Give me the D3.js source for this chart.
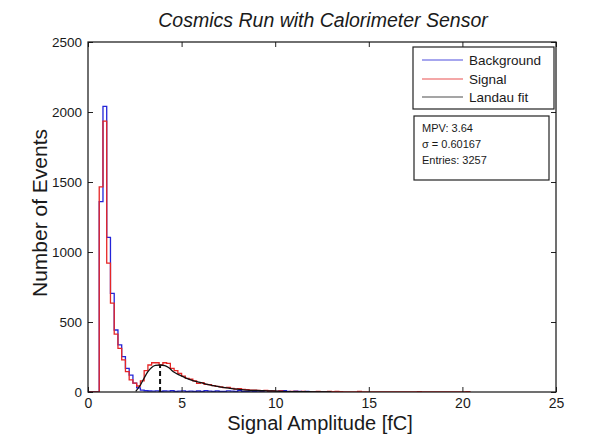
<!DOCTYPE html>
<html>
<head>
<meta charset="utf-8">
<script src="https://cdn.jsdelivr.net/npm/d3@7/dist/d3.min.js"></script>
<style>
  html, body { margin: 0; padding: 0; background: #fff; }
  svg { display: block; }
  text { font-family: Arial, "Liberation Sans", sans-serif; fill: #1a1a1a; }
</style>
</head>
<body>
<svg id="chart" width="602" height="436"></svg>
<script>
// ---------- data ----------
const title = "Cosmics Run with Calorimeter Sensor";
const xLabel = "Signal Amplitude [fC]";
const yLabel = "Number of Events";
const xTicks = [0, 5, 10, 15, 20, 25];
const yTicks = [0, 500, 1000, 1500, 2000, 2500];
const binStart = 0.6;
const binWidth = 0.2;
// Signal histogram counts, one per 0.2 fC bin starting at 0.6 fC
const signalCounts = [
  1465, 1935, 920, 635, 414, 312, 229, 145, 86, 64,
  43, 80, 152, 193, 209, 209, 193, 209, 205, 169,
  152, 133, 114, 98, 91, 79, 62, 67, 55, 52,
  45, 40, 36, 31, 33, 26, 21, 24, 19, 17,
  14, 14, 12, 10, 12, 7, 7, 5, 8, 3,
  2, 5, 4, 2, 4, 1, 3, 1, 4, 1,
  0, 4, 2, 4, 3, 0, 0, 1, 0, 4,
  0, 0, 0, 0, 0, 0, 0, 0, 0, 0,
  0, 0, 0, 0, 0, 3, 0, 0, 0, 0,
  0, 0, 0, 0, 0, 0, 0, 0, 2
];
// Background histogram counts, same binning
const backgroundCounts = [
  1360, 2040, 1105, 705, 443, 336, 252, 169, 121, 64,
  30, 14, 9, 7, 6, 8, 5, 7, 6, 9,
  5, 6, 8, 5, 6, 4, 7, 5, 9, 6,
  4, 7, 5, 4, 8, 6, 4, 10, 5, 4,
  7, 5, 6, 4, 10, 5, 6, 4, 7, 9,
  5, 3, 6, 4, 3, 5, 2, 3, 1, 2,
  1, 0
];
// Landau fit curve
const fitX = [2.55, 2.8, 3.0, 3.2, 3.4, 3.6, 3.85, 4.1, 4.3, 4.56, 4.9, 5.27, 5.6, 5.98, 6.3, 6.69, 7.1, 7.59, 8.0, 8.48, 9.0, 9.37, 10.26, 11.0, 12.0, 13.0];
const fitY = [5, 50, 100, 145, 175, 190, 193, 188, 175, 145, 120, 98, 82, 69, 56, 45, 35, 26, 20, 14, 11, 10, 5, 3, 1.5, 0.5];
// dashed MPV marker
const mpvMarkX = 3.85;
const mpvMarkY = 193;
const legendLabels = ["Background", "Signal", "Landau fit"];
const statsLines = ["MPV: 3.64", "\u03c3 = 0.60167", "Entries: 3257"];

// ---------- drawing ----------
const colors = { Background: "#2424d8", Signal: "#e62626", "Landau fit": "#111111" };
const svg = d3.select("#chart");
const W = 602, H = 436;
const pLeft = 88, pRight = 556, pTop = 42, pBottom = 392;

const x = d3.scaleLinear().domain([0, 25]).range([pLeft, pRight]);
const y = d3.scaleLinear().domain([0, 2500]).range([pBottom, pTop]);

svg.append("rect").attr("width", W).attr("height", H).attr("fill", "#fff");

const clip = svg.append("clipPath").attr("id", "plotclip");
clip.append("rect").attr("x", pLeft).attr("y", pTop).attr("width", pRight - pLeft).attr("height", pBottom - pTop);

function stairs(counts) {
  const pts = [{ x: 0, y: 0 }];
  counts.forEach((c, i) => pts.push({ x: binStart + i * binWidth, y: c }));
  pts.push({ x: binStart + counts.length * binWidth, y: 0 });
  return pts;
}
const stepLine = d3.line().x(d => x(d.x)).y(d => y(d.y)).curve(d3.curveStepAfter);

const plot = svg.append("g").attr("clip-path", "url(#plotclip)");
plot.append("path").datum(stairs(backgroundCounts))
  .attr("d", stepLine).attr("fill", "none").attr("stroke", colors.Background).attr("stroke-width", 1.3);
plot.append("path").datum(stairs(signalCounts))
  .attr("d", stepLine).attr("fill", "none").attr("stroke", colors.Signal).attr("stroke-width", 1.3);

const fitPts = fitX.map((v, i) => ({ x: v, y: fitY[i] }));
plot.append("path").datum(fitPts)
  .attr("d", d3.line().x(d => x(d.x)).y(d => y(d.y)).curve(d3.curveMonotoneX))
  .attr("fill", "none").attr("stroke", colors["Landau fit"]).attr("stroke-width", 1.3);

plot.append("line")
  .attr("x1", x(mpvMarkX)).attr("x2", x(mpvMarkX))
  .attr("y1", y(0)).attr("y2", y(mpvMarkY))
  .attr("stroke", "#111").attr("stroke-width", 2).attr("stroke-dasharray", "5,3");

// axes (inward ticks on all four sides)
const fmt = d3.format("d");
const axB = svg.append("g").attr("transform", `translate(0,${pBottom})`)
  .call(d3.axisBottom(x).tickValues(xTicks).tickFormat(fmt).tickSizeInner(-5).tickSizeOuter(0).tickPadding(6));
const axT = svg.append("g").attr("transform", `translate(0,${pTop})`)
  .call(d3.axisTop(x).tickValues(xTicks).tickSizeInner(-5).tickSizeOuter(0).tickFormat(""));
const axL = svg.append("g").attr("transform", `translate(${pLeft},0)`)
  .call(d3.axisLeft(y).tickValues(yTicks).tickFormat(fmt).tickSizeInner(-5).tickSizeOuter(0).tickPadding(6));
const axR = svg.append("g").attr("transform", `translate(${pRight},0)`)
  .call(d3.axisRight(y).tickValues(yTicks).tickSizeInner(-5).tickSizeOuter(0).tickFormat(""));
[axB, axT, axL, axR].forEach(g => {
  g.select(".domain").remove();
  g.selectAll(".tick line").attr("stroke", "#222");
});
axB.selectAll(".tick text").attr("font-size", 14).attr("fill", "#222").style("font-family", "Arial, 'Liberation Sans', sans-serif");
axL.selectAll(".tick text").attr("font-size", 13.5).attr("fill", "#222").style("font-family", "Arial, 'Liberation Sans', sans-serif");

svg.append("rect").attr("x", pLeft).attr("y", pTop).attr("width", pRight - pLeft).attr("height", pBottom - pTop)
  .attr("fill", "none").attr("stroke", "#111").attr("stroke-width", 1.2);

// titles
svg.append("text").attr("x", 323).attr("y", 27).attr("text-anchor", "middle")
  .attr("font-size", 19.5).attr("font-style", "italic").text(title);
svg.append("text").attr("x", 320).attr("y", 430).attr("text-anchor", "middle")
  .attr("font-size", 20).text(xLabel);
svg.append("text").attr("transform", `translate(47,${(pTop + pBottom) / 2 - 4}) rotate(-90)`)
  .attr("text-anchor", "middle").attr("font-size", 21).text(yLabel);

// legend
const lg = svg.append("g");
lg.append("rect").attr("x", 413).attr("y", 47).attr("width", 141).attr("height", 62)
  .attr("fill", "#fff").attr("stroke", "#222").attr("stroke-width", 1.2);
const legendY = [60, 79, 97];
legendLabels.forEach((lab, i) => {
  lg.append("line").attr("x1", 422).attr("x2", 463).attr("y1", legendY[i]).attr("y2", legendY[i])
    .attr("stroke", colors[lab]).attr("stroke-width", 1.2).attr("opacity", lab === "Landau fit" ? 0.75 : 0.8);
  lg.append("text").attr("x", 469).attr("y", legendY[i] + 5).attr("font-size", 13.5).attr("fill", "#222").text(lab);
});

// stats box
const sg = svg.append("g");
sg.append("rect").attr("x", 414).attr("y", 116).attr("width", 135).attr("height", 64)
  .attr("fill", "#fff").attr("stroke", "#222").attr("stroke-width", 1.2);
const statsY = [132, 148, 164];
statsLines.forEach((s, i) => {
  sg.append("text").attr("x", 422).attr("y", statsY[i]).attr("font-size", 11).attr("fill", "#333").text(s);
});
</script>
</body>
</html>
